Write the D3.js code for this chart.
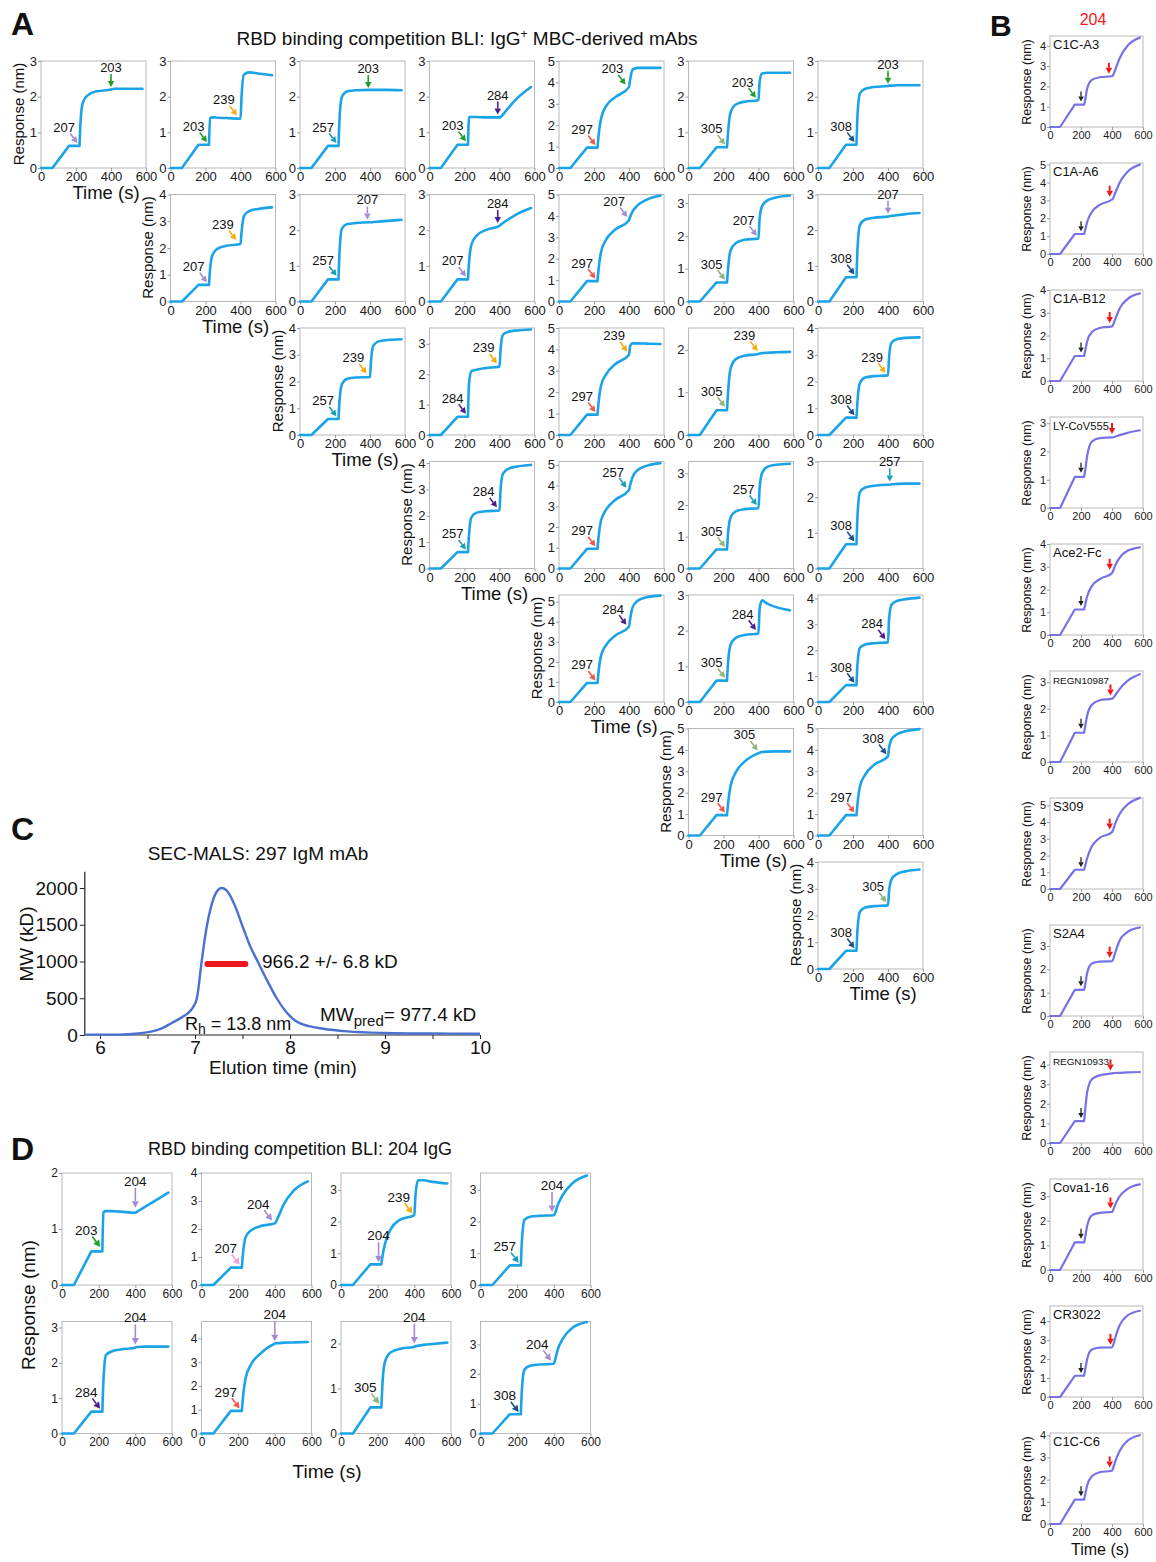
<!DOCTYPE html>
<html>
<head>
<meta charset="utf-8">
<script src="https://cdn.jsdelivr.net/npm/d3@7"></script>
<style>
  body { margin: 0; background: #fff; }
  text { font-family: "Liberation Sans", Arial, sans-serif; }
</style>
</head>
<body>
<script>
// shared BLI time points (s); first 4 = baseline / loading / plateau, then 2nd and 3rd association
var bliTime = [0, 65, 160, 220, 226, 240, 270, 320, 400, 406, 420, 450, 500, 580];

// ---- panel A (rows of the competition matrix, row r holds columns r..7)
var aPairs = [
  ["207","203"],["203","239"],["257","203"],["203","284"],["297","203"],["305","203"],["308","203"],
  ["207","239"],["257","207"],["207","284"],["297","207"],["305","207"],["308","207"],
  ["257","239"],["284","239"],["297","239"],["305","239"],["308","239"],
  ["257","284"],["297","257"],["305","257"],["308","257"],
  ["297","284"],["305","284"],["308","284"],
  ["297","305"],["297","308"],
  ["308","305"]
];
var aYmax = [3,3,3,3,5,3,3, 4,3,3,5,3.26,3, 4,3.52,5,2.51,4, 4.06,5.16,3.37,3, 5.33,3,4.13, 5,5, 4];
var aLoad = [0.62,0.65,0.62,0.65,0.95,0.58,0.65, 0.62,0.62,0.62,0.95,0.58,0.68, 0.6,0.6,0.95,0.58,0.65,
             0.62,0.95,0.6,0.68, 0.95,0.6,0.65, 0.95,0.95, 0.68];
// response at 226, 240, 270, 320, 400 s
var aStep2 = [
  [1.3,1.85,2.05,2.15,2.2],[1.4,1.42,1.41,1.4,1.38],[1.4,2.0,2.15,2.18,2.19],[1.43,1.43,1.43,1.42,1.42],
  [1.5,2.3,2.9,3.3,3.78],[1.0,1.55,1.78,1.86,1.9],[1.5,2.1,2.22,2.27,2.3],
  [1.2,1.75,1.98,2.08,2.15],[1.4,2.05,2.17,2.2,2.22],[1.1,1.6,1.85,2.0,2.12],[1.5,2.3,2.9,3.35,3.8],
  [1.0,1.55,1.78,1.88,1.92],[1.5,2.15,2.3,2.35,2.38],
  [1.3,1.9,2.1,2.15,2.17],[1.7,2.1,2.15,2.2,2.25],[1.5,2.3,2.85,3.3,3.75],[1.0,1.55,1.78,1.86,1.9],
  [1.3,1.95,2.15,2.2,2.23],
  [1.3,1.95,2.12,2.17,2.2],[1.5,2.3,2.85,3.3,3.78],[1.1,1.6,1.8,1.87,1.9],[1.5,2.15,2.27,2.32,2.35],
  [1.5,2.3,2.85,3.3,3.75],[1.1,1.6,1.8,1.88,1.92],[1.5,2.1,2.22,2.27,2.3],
  [1.5,2.3,2.95,3.45,3.85],[1.5,2.3,2.85,3.3,3.7],
  [1.5,2.15,2.3,2.35,2.38]
];
// response at 406, 420, 450, 500, 580 s
var aStep3 = [
  [2.21,2.22,2.22,2.22,2.22],[2.0,2.62,2.68,2.65,2.6],[2.19,2.19,2.19,2.19,2.18],[1.43,1.5,1.68,1.95,2.27],
  [4.1,4.6,4.68,4.68,4.68],[2.4,2.65,2.67,2.67,2.67],[2.31,2.31,2.32,2.32,2.32],
  [2.6,3.2,3.38,3.46,3.52],[2.22,2.23,2.24,2.26,2.29],[2.15,2.2,2.3,2.45,2.62],[3.95,4.2,4.5,4.75,4.95],
  [2.5,2.9,3.08,3.17,3.23],[2.39,2.4,2.42,2.45,2.48],
  [2.8,3.35,3.5,3.55,3.58],[2.8,3.3,3.4,3.44,3.47],[4.15,4.28,4.28,4.27,4.25],[1.91,1.92,1.93,1.94,1.95],
  [2.9,3.45,3.58,3.63,3.65],
  [3.0,3.6,3.78,3.87,3.93],[4.0,4.4,4.75,4.95,5.08],[2.5,3.0,3.2,3.27,3.3],[2.35,2.36,2.37,2.38,2.38],
  [4.1,4.7,5.05,5.22,5.3],[2.6,2.85,2.76,2.66,2.57],[3.2,3.75,3.9,3.97,4.03],
  [3.87,3.9,3.92,3.93,3.93],[4.1,4.5,4.72,4.87,4.97],
  [2.9,3.35,3.55,3.65,3.72]
];
// arrow tips: first mAb (t = 208 s) and second mAb [t, response, direction]
var aTip1 = [0.7,0.73,0.7,0.75,1.07,0.66,0.73, 0.72,0.72,0.7,1.07,0.66,0.76, 0.7,0.7,1.07,0.66,0.74,
             0.72,1.07,0.68,0.76, 1.07,0.68,0.74, 1.07,1.07, 0.78];
var aTip2 = [
  [400,2.27,"v"],[380,1.47,"d"],[390,2.24,"v"],[390,1.5,"v"],[380,3.9,"d"],[385,1.97,"d"],[400,2.36,"v"],
  [375,2.3,"d"],[385,2.3,"v"],[390,2.2,"v"],[390,3.95,"d"],[390,2.0,"d"],[400,2.46,"v"],
  [380,2.3,"d"],[385,2.35,"d"],[390,3.9,"d"],[395,1.97,"d"],[385,2.32,"d"],
  [385,2.32,"d"],[385,3.9,"d"],[390,2.0,"d"],[410,2.44,"v"],
  [385,3.85,"d"],[385,2.02,"d"],[385,2.42,"d"],
  [395,3.97,"d"],[390,3.8,"d"],
  [390,2.5,"d"]
];

// ---- panel B (204 IgG vs reference antibodies)
var bNames = ["C1C-A3","C1A-A6","C1A-B12","LY-CoV555","Ace2-Fc","REGN10987","S309","S2A4","REGN10933","Cova1-16","CR3022","C1C-C6"];
var bYmax = [4.48,5.09,4.0,3.22,4.0,3.42,5.44,3.9,4.64,3.7,4.8,4.1];
var bLoad = [1.1,1.12,1.1,1.1,1.12,1.1,1.15,1.12,1.12,1.12,1.12,1.1];
var bStep2 = [
  [1.3,1.9,2.32,2.45,2.5],[1.3,1.8,2.35,2.75,3.05],[1.3,1.75,2.15,2.33,2.4],[1.3,1.85,2.35,2.47,2.5],
  [1.3,1.7,2.15,2.45,2.72],[1.3,1.75,2.15,2.32,2.38],[1.35,1.85,2.55,3.05,3.4],[1.3,1.85,2.25,2.33,2.35],
  [1.6,2.6,3.25,3.45,3.55],[1.3,1.8,2.22,2.32,2.36],[1.4,2.0,2.5,2.6,2.62],[1.3,1.75,2.15,2.33,2.4]
];
var bStep3 = [
  [2.55,2.8,3.4,4.0,4.4],[3.1,3.4,4.0,4.6,5.0],[2.45,2.7,3.2,3.6,3.85],[2.5,2.52,2.58,2.66,2.75],
  [2.8,3.05,3.4,3.7,3.85],[2.4,2.5,2.75,3.05,3.3],[3.5,3.9,4.5,5.05,5.45],[2.4,2.7,3.25,3.6,3.8],
  [3.56,3.57,3.58,3.6,3.62],[2.42,2.65,3.0,3.3,3.48],[2.7,3.1,3.8,4.3,4.55],[2.5,2.8,3.3,3.75,4.0]
];
var bBlackTip = [1.25,1.27,1.25,1.25,1.27,1.25,1.3,1.27,1.27,1.27,1.27,1.25];
var bRedTip = [[380,2.62],[385,3.2],[385,2.55],[400,2.62],[385,2.87],[390,2.5],[385,3.55],[385,2.5],
               [390,3.7],[390,2.5],[390,2.75],[385,2.55]];

// ---- panel C (SEC-MALS)
var secTime = [5.85,6.2,6.4,6.55,6.65,6.75,6.86,6.92,6.98,7.02,7.07,7.12,7.17,7.22,7.28,7.35,7.42,7.5,7.58,7.66,7.76,7.86,7.95,8.05,8.2,8.35,8.6,9.0,9.5,10.0];
var secMW   = [5,5,20,50,90,160,240,290,380,500,1000,1450,1750,1930,2000,1940,1760,1480,1210,1000,740,500,330,200,120,85,50,28,20,18];
var secYTicks = [0,500,1000,1500,2000];
var secXTicks = [6,7,8,9,10];
var malsRange = [7.13, 7.53];
var malsMW = 966.2;

// ---- panel D (204 IgG competition)
var dPairs = [["203","204"],["207","204"],["204","239"],["257","204"],["284","204"],["297","204"],["305","204"],["308","204"]];
var dYmax = [2,4,3.53,3.53,3.17,4.71,2.49,3.77];
var dLoad = [0.6,0.62,0.65,0.62,0.62,0.95,0.58,0.65];
var dStep2 = [
  [1.3,1.32,1.32,1.31,1.29],[1.1,1.7,1.95,2.1,2.2],[0.9,1.3,1.75,2.05,2.2],[1.4,2.05,2.15,2.18,2.2],
  [1.5,2.22,2.32,2.38,2.43],[1.5,2.3,2.9,3.35,3.78],[1.1,1.6,1.8,1.88,1.93],[1.5,2.15,2.28,2.32,2.35]
];
var dStep3 = [
  [1.3,1.33,1.39,1.49,1.65],[2.25,2.45,2.9,3.35,3.7],[2.8,3.3,3.3,3.25,3.2],[2.25,2.5,2.85,3.2,3.45],
  [2.45,2.45,2.46,2.46,2.46],[3.8,3.8,3.82,3.83,3.85],[1.94,1.95,1.97,1.99,2.02],[2.45,2.8,3.2,3.55,3.75]
];
var dTip1 = [[208,0.68,"d"],[208,0.72,"d"],[205,0.72,"v"],[208,0.7,"d"],[208,0.7,"d"],[208,1.05,"d"],[208,0.66,"d"],[208,0.72,"d"]];
var dTip2 = [[400,1.38,"v"],[385,2.3,"d"],[390,2.25,"d"],[390,2.3,"v"],[400,2.52,"v"],[400,3.88,"v"],[400,2.0,"v"],[385,2.45,"d"]];

var mabColor = {"203":"#1e9e28","204":"#a68bd2","207":"#a68bd2","239":"#f5ad0c","257":"#1e9cb2",
                "284":"#4c1e8c","297":"#f2564e","305":"#8fb27a","308":"#1c4f88"};
var dColor = Object.assign({}, mabColor, {"207":"#f29ae2"});

var FONT = '"Liberation Sans", Arial, sans-serif';
var svg = d3.select("body").append("svg").attr("width", 1156).attr("height", 1562);

function styleAxis(sel, fs) {
  sel.attr("font-size", fs).attr("font-family", FONT);
  sel.select(".domain").remove();
  sel.selectAll(".tick line").attr("stroke", "#9c9c9c");
  sel.selectAll(".tick text").attr("fill", "#1a1a1a");
}

function drawBli(x0, y0, w, h, ymax, load, s2, s3, o) {
  var g = svg.append("g").attr("transform", "translate(" + x0 + "," + y0 + ")");
  var x = d3.scaleLinear().domain([0, 600]).range([0, w]);
  var y = d3.scaleLinear().domain([0, ymax]).range([h, 0]);
  var vals = [0, 0, load, load].concat(s2, s3);
  var pts = bliTime.map(function (t, i) { return [t, vals[i]]; });

  g.append("rect").attr("width", w).attr("height", h)
    .attr("fill", "none").attr("stroke", "#b8b8b8").attr("stroke-width", 1);
  g.append("g")
    .call(d3.axisLeft(y).tickValues(d3.range(0, Math.floor(ymax + 1e-6) + 1)).tickFormat(d3.format("d"))
      .tickSize(3).tickPadding(1))
    .call(styleAxis, o.fs);
  g.append("g").attr("transform", "translate(0," + h + ")")
    .call(d3.axisBottom(x).tickValues([0, 200, 400, 600]).tickSize(3).tickPadding(1))
    .call(styleAxis, o.fs);

  var lin = d3.line().x(function (d) { return x(d[0]); }).y(function (d) { return y(d[1]); });
  var smooth = d3.line().curve(d3.curveMonotoneX).x(function (d) { return x(d[0]); }).y(function (d) { return y(d[1]); });
  var path = lin(pts.slice(0, 4)) + smooth(pts.slice(3)).replace(/^M[^A-Z]*/, "");
  g.append("path").attr("d", path).attr("fill", "none")
    .attr("stroke", o.color).attr("stroke-width", o.lw)
    .attr("stroke-linejoin", "round").attr("stroke-linecap", "round");
  return { g: g, x: x, y: y, w: w, h: h };
}

function arrowMark(g, px, py, dir, color, label, o) {
  var len = dir === "v" ? o.vlen : o.dlen;
  var sx = dir === "v" ? px : px - len * 0.6;
  var sy = py - (dir === "v" ? len : len * 0.8);
  var ang = Math.atan2(py - sy, px - sx);
  var hl = o.head, hw = o.head * 0.55;
  var bx = px - hl * Math.cos(ang), by = py - hl * Math.sin(ang);
  g.append("line").attr("x1", sx).attr("y1", sy).attr("x2", bx).attr("y2", by)
    .attr("stroke", color).attr("stroke-width", o.sw);
  g.append("path")
    .attr("d", "M" + px + "," + py +
      "L" + (bx + hw * Math.sin(ang)) + "," + (by - hw * Math.cos(ang)) +
      "L" + (bx - hw * Math.sin(ang)) + "," + (by + hw * Math.cos(ang)) + "Z")
    .attr("fill", color);
  if (label) {
    g.append("text").attr("x", dir === "v" ? sx : sx - 6).attr("y", sy - (dir === "v" ? 2 : 1.5))
      .attr("text-anchor", "middle").attr("font-size", o.lfs).attr("fill", "#111").text(label);
  }
}

function vLabel(x, y, txt, fs) {
  svg.append("text").attr("transform", "translate(" + x + "," + y + ") rotate(-90)")
    .attr("text-anchor", "middle").attr("dominant-baseline", "central")
    .attr("font-size", fs).attr("fill", "#111").text(txt);
}
function hText(x, y, txt, fs, anchor, extra) {
  return svg.append("text").attr("x", x).attr("y", y).attr("text-anchor", anchor || "middle")
    .attr("font-size", fs).attr("fill", extra || "#111").text(txt);
}

// ================= Panel A
var optA = { fs: 13, lw: 2.6, color: "#1ba3e8", dlen: 12, vlen: 13, head: 6, sw: 1.6, lfs: 13 };
hText(11, 35, "A", 32).attr("font-weight", "bold").attr("text-anchor", "start");
var tA = svg.append("text").attr("x", 467).attr("y", 45).attr("text-anchor", "middle")
  .attr("font-size", 19).attr("fill", "#111");
tA.append("tspan").text("RBD binding competition BLI: IgG");
tA.append("tspan").attr("font-size", 12).attr("dy", -7).text("+");
tA.append("tspan").attr("dy", 7).text(" MBC-derived mAbs");

var k = 0;
for (var r = 0; r < 7; r++) {
  for (var c = r; c < 7; c++, k++) {
    var ax = 41 + 129.5 * c, ay = 61 + 133.5 * r;
    var p = drawBli(ax, ay, 105, 107, aYmax[k], aLoad[k], aStep2[k], aStep3[k], optA);
    arrowMark(p.g, p.x(208), p.y(aTip1[k]), "d", mabColor[aPairs[k][0]], aPairs[k][0], optA);
    var t2 = aTip2[k];
    arrowMark(p.g, p.x(t2[0]), p.y(t2[1]), t2[2], mabColor[aPairs[k][1]], aPairs[k][1], optA);
    if (c === r) {
      vLabel(ax - 23, ay + 53, "Response (nm)", 15);
      hText(ax + 65, ay + 107 + 31, "Time (s)", 18.5);
    }
  }
}

// ================= Panel B
var optB = { fs: 11, lw: 2.2, color: "#7672e6", dlen: 10, vlen: 10, head: 5, sw: 1.3, lfs: 11 };
var optBred = { fs: 11, lw: 2, color: "#7672e6", dlen: 11, vlen: 11, head: 6, sw: 2, lfs: 11 };
hText(990, 36, "B", 30).attr("font-weight", "bold").attr("text-anchor", "start");
hText(1093, 25, "204", 16, "middle", "#f01818");
bNames.forEach(function (name, i) {
  var by0 = 36 + 127 * i;
  var p = drawBli(1050, by0, 93, 91, bYmax[i], bLoad[i], bStep2[i], bStep3[i], optB);
  arrowMark(p.g, p.x(200), p.y(bBlackTip[i]), "v", "#222", null, optB);
  arrowMark(p.g, p.x(bRedTip[i][0]), p.y(bRedTip[i][1]), "v", "#f01818", null, optBred);
  var t = p.g.append("text").attr("x", 3).attr("y", 13).attr("font-size", 13).attr("fill", "#111").text(name);
  var tl = t.node().getComputedTextLength();
  if (tl > 56) t.attr("font-size", 13 * 56 / tl);
  vLabel(1027, by0 + 46, "Response (nm)", 12.5);
});
hText(1100, 1555, "Time (s)", 16);

// ================= Panel C
hText(11, 840, "C", 32).attr("font-weight", "bold").attr("text-anchor", "start");
hText(258, 860, "SEC-MALS: 297 IgM mAb", 19);
var cx = d3.scaleLinear().domain([6, 10]).range([100, 480]);
var cy = d3.scaleLinear().domain([0, 2000]).range([1035, 888]);
var cg = svg.append("g");
cg.append("line").attr("x1", cx(5.84)).attr("x2", cx(5.84)).attr("y1", cy(2220)).attr("y2", cy(0))
  .attr("stroke", "#222").attr("stroke-width", 1.2);
cg.append("line").attr("x1", cx(5.84)).attr("x2", cx(10)).attr("y1", cy(0)).attr("y2", cy(0))
  .attr("stroke", "#222").attr("stroke-width", 1.2);
cg.append("g").attr("transform", "translate(" + cx(5.84) + ",0)")
  .call(d3.axisLeft(cy).tickValues(secYTicks).tickFormat(d3.format("d")).tickSize(5).tickPadding(2))
  .call(function (s) { s.select(".domain").remove(); s.attr("font-size", 19).attr("font-family", FONT);
    s.selectAll(".tick line").attr("stroke", "#222"); s.selectAll(".tick text").attr("fill", "#111"); });
cg.append("g").attr("transform", "translate(0," + cy(0) + ")")
  .call(d3.axisBottom(cx).tickValues(d3.range(6, 10.01, 0.5)).tickSize(4).tickPadding(2)
    .tickFormat(function (d) { return secXTicks.indexOf(d) >= 0 ? d : ""; }))
  .call(function (s) { s.select(".domain").remove(); s.attr("font-size", 19).attr("font-family", FONT);
    s.selectAll(".tick line").attr("stroke", "#222"); s.selectAll(".tick text").attr("fill", "#111"); });
cg.append("path").datum(secTime.map(function (t, i) { return [t, secMW[i]]; }))
  .attr("d", d3.line().curve(d3.curveMonotoneX).x(function (d) { return cx(d[0]); }).y(function (d) { return cy(d[1]); }))
  .attr("fill", "none").attr("stroke", "#4a70d0").attr("stroke-width", 2.4);
cg.append("line").attr("x1", cx(malsRange[0])).attr("x2", cx(malsRange[1]))
  .attr("y1", cy(malsMW)).attr("y2", cy(malsMW))
  .attr("stroke", "#ee1620").attr("stroke-width", 6).attr("stroke-linecap", "round");
hText(262, 968, "966.2 +/- 6.8 kD", 19, "start");
var rh = hText(185, 1030, "", 18, "start");
rh.append("tspan").text("R");
rh.append("tspan").attr("font-size", 14).attr("dy", 4).text("h");
rh.append("tspan").attr("dy", -4).text(" = 13.8 nm");
var mwp = hText(320, 1021, "", 19, "start");
mwp.append("tspan").text("MW");
mwp.append("tspan").attr("font-size", 15).attr("dy", 5).text("pred");
mwp.append("tspan").attr("dy", -5).text("= 977.4 kD");
vLabel(26, 944, "MW (kD)", 19);
hText(283, 1074, "Elution time (min)", 19);

// ================= Panel D
var optD = { fs: 12, lw: 2.6, color: "#1ba3e8", dlen: 13, vlen: 20, head: 6.5, sw: 1.6, lfs: 13.5 };
hText(11, 1160, "D", 32).attr("font-weight", "bold").attr("text-anchor", "start");
hText(300, 1155, "RBD binding competition BLI: 204 IgG", 18);
dPairs.forEach(function (pair, i) {
  var rr = Math.floor(i / 4), cc = i % 4;
  var p = drawBli(62 + 139.5 * cc, 1173 + 148.5 * rr, 110, 112, dYmax[i], dLoad[i], dStep2[i], dStep3[i], optD);
  var a = dTip1[i], b = dTip2[i];
  arrowMark(p.g, p.x(a[0]), p.y(a[1]), a[2], dColor[pair[0]], pair[0], optD);
  arrowMark(p.g, p.x(b[0]), p.y(b[1]), b[2], dColor[pair[1]], pair[1], optD);
});
vLabel(28, 1305, "Response (nm)", 19);
hText(327, 1478, "Time (s)", 19);
</script>
</body>
</html>
